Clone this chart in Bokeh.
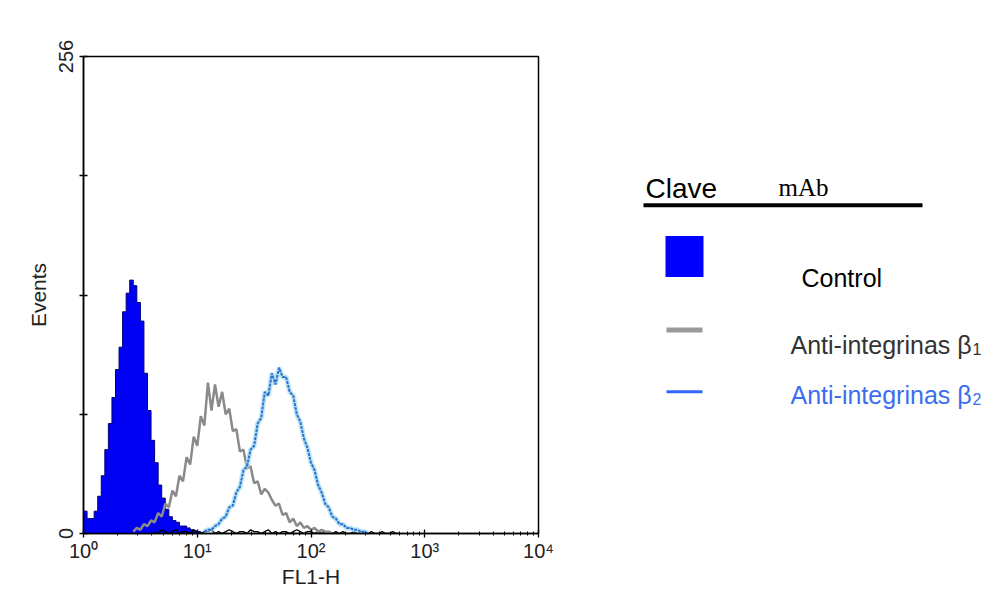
import numpy as np
from bokeh.plotting import figure
from bokeh.layouts import row
from bokeh.models import Range1d, FixedTicker
from bokeh.core.properties import value
from bokeh.embed import file_html
from bokeh.resources import INLINE

# ---- data: histogram counts per channel (32 channels per decade of FL1-H) ----
CH_PER_DECADE = 32
control_start = 0
control_counts = [12, 8, 8, 12, 20, 31, 45, 59, 73, 88, 100, 119, 129, 136, 133, 124,
                  114, 86, 66, 50, 38, 26, 19, 13, 9, 7, 6, 4, 4, 3, 2, 1, 1, 0]
beta1_start = 14
beta1_counts = [1, 3, 2, 5, 4, 7, 6, 11, 9, 16, 14, 23, 20, 31, 28, 41, 37, 52, 47, 63,
                58, 81, 66, 80, 68, 76, 64, 67, 55, 56, 44, 45, 35, 36, 27, 28, 21, 24,
                22, 18, 15, 16, 10, 11, 6, 8, 4, 6, 3, 4, 2, 3, 1, 2, 1, 1, 0]
beta2_start = 34
beta2_counts = [1, 2, 2, 4, 5, 8, 9, 14, 15, 22, 25, 34, 36, 45, 47, 59, 62, 76, 74, 86,
                80, 89, 84, 84, 76, 74, 64, 60, 51, 46, 38, 34, 26, 22, 16, 14, 9, 8, 5,
                5, 3, 3, 2, 2, 1, 1, 0]
baseline_start = 20
baseline_counts = [1, 0, 2, 1, 0, 1, 2, 0, 1, 1, 0, 2, 1, 0, 1, 1, 2, 0, 1, 0, 1, 2, 1, 0,
                   1, 1, 0, 2, 1, 1, 0, 1, 2, 0, 1, 0, 1, 1, 0, 1, 2, 1, 0, 1, 1, 0, 1, 0,
                   1, 1, 0, 1, 0, 1, 0, 0, 1, 0, 1, 0, 0, 1, 0, 0, 1, 0, 0, 1, 0, 0]

x_ticks = [1, 10, 100, 1000, 10000]
x_tick_labels = ["10\u2070", "10\u00b9", "10\u00b2", "10\u00b3", "10\u2074"]
y_ticks = [0, 64, 128, 192, 256]
y_tick_labels = ["0", "", "", "", "256"]

legend_header = ["Clave", "mAb"]
legend_labels = ["Control", "Anti-integrinas \u03b2", "Anti-integrinas \u03b2"]
legend_subs = ["", "1", "2"]


def channel_x(start, n):
    return 10 ** ((np.arange(n) + start) / CH_PER_DECADE)


FONT = value("Liberation Sans")
H = 590
TOP = 56
FRAME_H = 478

p = figure(width=568, height=H, x_axis_type="log",
           x_range=Range1d(1, 10000), y_range=Range1d(0, 256),
           output_backend="svg", toolbar_location=None,
           min_border_left=83, min_border_right=30,
           min_border_top=TOP, min_border_bottom=H - TOP - FRAME_H)
p.grid.visible = False
p.outline_line_color = "black"
p.outline_line_width = 1.5
p.background_fill_color = "white"

xc = channel_x(control_start, len(control_counts))
p.varea_step(x=xc, y1=np.zeros(len(xc)), y2=control_counts, step_mode="after",
             fill_color="#0000f5")
p.step(x=xc, y=control_counts, mode="after", line_color="#00007a", line_width=1)

xb = channel_x(baseline_start, len(baseline_counts))
p.line(x=xb, y=baseline_counts, line_color="black", line_width=1.3)

x1 = channel_x(beta1_start, len(beta1_counts))
p.line(x=x1, y=beta1_counts, line_color="#8a8a8a", line_width=2.5)

x2 = channel_x(beta2_start, len(beta2_counts))
p.line(x=x2, y=beta2_counts, line_color="#9fdcf0", line_width=5, line_alpha=0.7)
p.line(x=x2, y=beta2_counts, line_color="#2f6fd0", line_width=2, line_dash="3 1")

# axes
xa = p.xaxis[0]
xa.ticker = FixedTicker(ticks=x_ticks,
                        minor_ticks=[m * d for d in [1, 10, 100, 1000] for m in range(2, 10)])
xa.major_label_overrides = {t: l for t, l in zip(x_ticks, x_tick_labels)}
xa.axis_label = "FL1-H"
ya = p.yaxis[0]
ya.ticker = FixedTicker(ticks=y_ticks)
ya.major_label_overrides = {t: l for t, l in zip(y_ticks, y_tick_labels)}
ya.axis_label = "Events"
ya.major_label_orientation = "vertical"
for ax in (xa, ya):
    ax.axis_line_color = "black"
    ax.axis_line_width = 1.5
    ax.major_tick_line_color = "black"
    ax.major_tick_line_width = 1.3
    ax.major_tick_in = 4
    ax.major_tick_out = 4
    ax.minor_tick_in = 2
    ax.minor_tick_out = 2
    ax.minor_tick_line_color = "black"
    ax.major_label_text_font = "Liberation Sans"
    ax.major_label_text_font_size = "20px"
    ax.major_label_text_color = "#222222"
    ax.axis_label_text_font = "Liberation Sans"
    ax.axis_label_text_font_size = "21px"
    ax.axis_label_text_font_style = "normal"
    ax.axis_label_text_color = "#222222"
xa.major_label_standoff = 2
xa.axis_label_standoff = 0
ya.major_label_standoff = 7
ya.axis_label_standoff = 6

# ---- legend panel (coordinates in page pixels; frame aligned with main frame) ----
lg = figure(width=417, height=H, x_range=Range1d(568, 985),
            y_range=Range1d(TOP + FRAME_H, TOP),
            output_backend="svg", toolbar_location=None,
            min_border_left=0, min_border_right=0,
            min_border_top=TOP, min_border_bottom=H - TOP - FRAME_H,
            x_axis_location=None, y_axis_location=None)
lg.grid.visible = False
lg.outline_line_color = None

lg.text(x=[645], y=[188], text=[legend_header[0]], text_font=FONT,
        text_font_size="28px", text_baseline="alphabetic", text_color="black")
lg.text(x=[778], y=[187], text=[legend_header[1]], text_font=value("Liberation Serif"),
        text_font_size="25px", text_baseline="alphabetic", text_color="black")
lg.segment(x0=[643], y0=[205], x1=[922], y1=[205], line_color="black", line_width=4)

lg.quad(left=[665], right=[703], top=[236], bottom=[277], fill_color="#0000ff",
        line_color=None)
lg.text(x=[801], y=[278], text=[legend_labels[0]], text_font=FONT,
        text_font_size="25px", text_baseline="alphabetic", text_color="black")

lg.segment(x0=[666], y0=[330], x1=[702], y1=[330], line_color="#999999", line_width=5)
lg.text(x=[790], y=[345], text=[legend_labels[1]], text_font=FONT,
        text_font_size="25px", text_baseline="alphabetic", text_color="#333333")
lg.text(x=[972], y=[349], text=[legend_subs[1]], text_font=FONT,
        text_font_size="16px", text_baseline="alphabetic", text_color="#333333")

lg.segment(x0=[666], y0=[392], x1=[702], y1=[392], line_color="#3366ff", line_width=3)
lg.text(x=[790], y=[395], text=[legend_labels[2]], text_font=FONT,
        text_font_size="25px", text_baseline="alphabetic", text_color="#3b6cf2")
lg.text(x=[972], y=[399], text=[legend_subs[2]], text_font=FONT,
        text_font_size="16px", text_baseline="alphabetic", text_color="#3b6cf2")

layout = row(p, lg)
open("out.html", "w").write(file_html(layout, INLINE))
